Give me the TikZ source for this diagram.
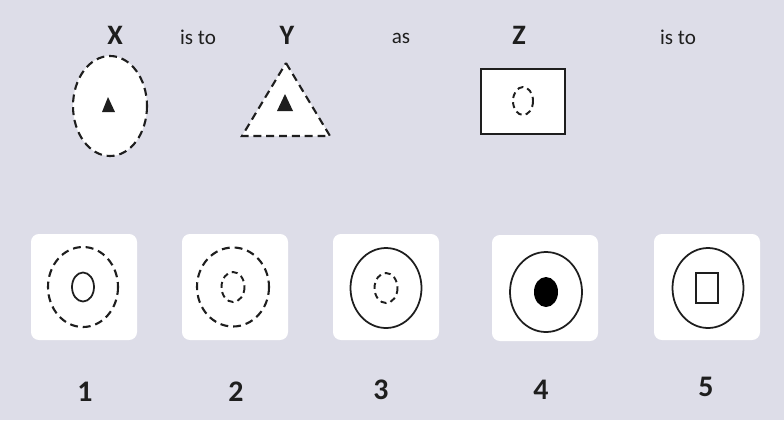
\documentclass[tikz,border=0pt]{standalone}
\usepackage{fontspec}
\setmainfont{Carlito}

\definecolor{bg}{RGB}{221,221,232}
\definecolor{ink}{RGB}{30,30,30}
\tikzset{
  card/.style={fill=white, rounded corners=4.5pt},
  solidline/.style={draw=ink, line width=1pt},
  dashline/.style={draw=ink, line width=1.2pt, dash pattern=on 4.5pt off 2.8pt},
  smalldash/.style={draw=ink, line width=1.1pt, dash pattern=on 3.4pt off 2.4pt},
  word/.style={text=ink, font=\fontsize{12}{14}\selectfont},
  letter/.style={text=ink, font=\fontsize{16}{18}\selectfont\bfseries},
  num/.style={text=ink, font=\fontsize{17}{19}\selectfont\bfseries}
}

\begin{document}
\begin{tikzpicture}[x=0.02cm, y=-0.02cm]
\fill [bg] (0,0) rectangle (784,420);

% question row
\node [letter] (X) at (115,35) {X};
\node [word] (isto1) at (198,37) {is to};
\node [letter] (Y) at (287,35) {Y};
\node [word] (as) at (401,38) {as};
\node [letter] (Z) at (519,35) {Z};
\node [word] (isto2) at (678,37) {is to};

\draw [dashline, fill=white] (110,106) ellipse [x radius=37, y radius=50];
\fill [ink] (108,97) -- (115,112) -- (102,112) -- cycle;

\draw [dashline, fill=white] (286,63) -- (330,136) -- (242,136) -- cycle;
\fill [ink] (285,94) -- (293,111) -- (277,111) -- cycle;

\draw [solidline, line width=1.4pt, fill=white] (481,69) rectangle (565,134);
\draw [smalldash] (523,101) ellipse [x radius=10, y radius=14];

% answer cards
\foreach \n/\x/\y in {1/84/287, 2/235/287, 3/386/287, 4/545/288, 5/707/287} {
  \fill [card] (\x-53,\y-53) rectangle (\x+53,\y+53);
}
\draw [dashline] (83,287) ellipse [x radius=35, y radius=40];
\draw [solidline] (83,287) ellipse [x radius=11, y radius=14.5];

\draw [dashline] (233,287) ellipse [x radius=36, y radius=39.5];
\draw [smalldash] (233,287) ellipse [x radius=11.5, y radius=15];

\draw [solidline] (386,288) ellipse [x radius=35.5, y radius=40];
\draw [smalldash] (386,288) ellipse [x radius=11.5, y radius=15];

\draw [solidline] (546,292) ellipse [x radius=36, y radius=40];
\fill [black] (546,292) ellipse [x radius=12, y radius=15];

\draw [solidline] (708,288) ellipse [x radius=35.5, y radius=40];
\draw [solidline] (696,273) rectangle (718,303);

\foreach \n/\x/\y in {1/85/392, 2/236/392, 3/381/390, 4/541/390, 5/706/387}
\node [num] (n\n) at (\x,\y) {\n};
\end{tikzpicture}
\end{document}
